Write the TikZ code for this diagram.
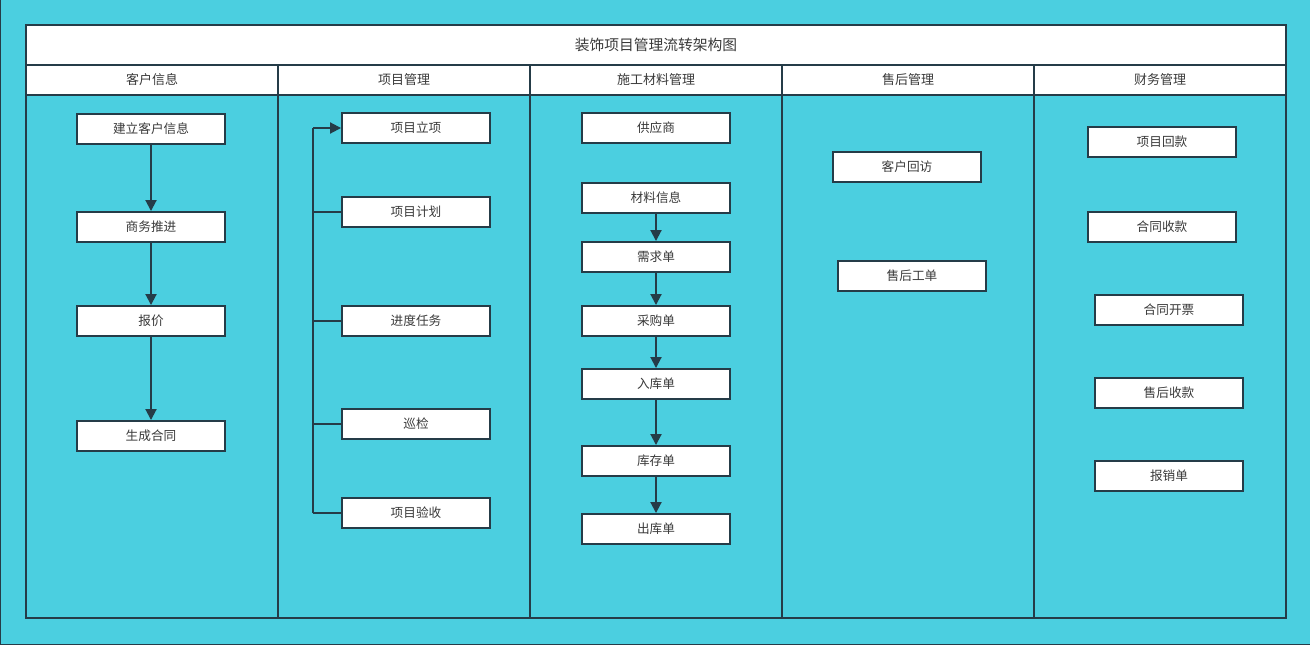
\documentclass[tikz,border=0pt]{standalone}
\usepackage{fontspec}
\setmainfont{Noto Sans CJK SC}
\usepackage{tikz}
\usetikzlibrary{arrows.meta, positioning, calc}
\definecolor{fcyan}{HTML}{4BCFE0}
\definecolor{fline}{HTML}{253C48}
\definecolor{ftext}{HTML}{3A3A3A}
\tikzset{
  card/.style={rectangle, draw=fline, line width=1.1pt, fill=white, text=ftext,
               minimum width=2.96cm, minimum height=0.6cm, inner sep=0pt,
               font=\fontsize{7.2}{9}\selectfont},
  head/.style={rectangle, draw=fline, line width=1.1pt, fill=white, text=ftext,
               minimum width=5.04cm, minimum height=0.6cm, inner sep=0pt,
               font=\fontsize{7.4}{9}\selectfont},
  lane/.style={draw=fline, line width=1.1pt, fill=fcyan},
  wire/.style={draw=fline, line width=1.1pt},
  flow/.style={-{Triangle[length=2.2mm, width=2.2mm]}, draw=fline, line width=1.1pt}
}
\begin{document}
\begin{tikzpicture}[x=0.02cm, y=-0.02cm]
  \useasboundingbox (0,0) rectangle (1310,645);
  \fill[fcyan] (0,0) rectangle (1310,645);
  \draw[fline, line width=0.8pt] (0.5,0) -- (0.5,644.5) -- (1310,644.5);

  % lanes and headers
  \node[head, minimum width=25.2cm, minimum height=0.8cm, font=\fontsize{8.4}{10}\selectfont]
    (title) at (656,45) {装饰项目管理流转架构图};
  \foreach \i/\t in {0/客户信息, 1/项目管理, 2/施工材料管理, 3/售后管理, 4/财务管理} {
    \draw[lane] ({26+252*\i},95) rectangle ({278+252*\i},618);
    \node[head] (h\i) at ({152+252*\i},80) {\t};
  }

  % customer lane
  \node[card] (c1) at (151,129) {建立客户信息};
  \node[card] (c2) at (151,227) {商务推进};
  \node[card] (c3) at (151,321) {报价};
  \node[card] (c4) at (151,436) {生成合同};
  \foreach \a/\b in {c1/c2, c2/c3, c3/c4}
    \draw[flow] (\a) -- (\b);

  % project lane
  \node[card] (p1) at (416,128) {项目立项};
  \node[card] (p2) at (416,212) {项目计划};
  \node[card] (p3) at (416,321) {进度任务};
  \node[card] (p4) at (416,424) {巡检};
  \node[card] (p5) at (416,513) {项目验收};
  \coordinate (bustop) at (313,128);
  \coordinate (busend) at (313,513);
  \draw[wire] (busend) -- (bustop);
  \draw[flow] (bustop) -- (p1);
  \foreach \n in {p2, p3, p4, p5}
    \draw[wire] (\n.west) -- (\n.west -| bustop);

  % material lane
  \node[card] (m0) at (656,128) {供应商};
  \node[card] (m1) at (656,198) {材料信息};
  \node[card] (m2) at (656,257) {需求单};
  \node[card] (m3) at (656,321) {采购单};
  \node[card] (m4) at (656,384) {入库单};
  \node[card] (m5) at (656,461) {库存单};
  \node[card] (m6) at (656,529) {出库单};
  \foreach \a/\b in {m1/m2, m2/m3, m3/m4, m4/m5, m5/m6}
    \draw[flow] (\a) -- (\b);

  % after-sales lane
  \node[card] (s1) at (907,167) {客户回访};
  \node[card] (s2) at (912,276) {售后工单};

  % finance lane
  \node[card] (f1) at (1162,142) {项目回款};
  \node[card] (f2) at (1162,227) {合同收款};
  \node[card] (f3) at (1169,310) {合同开票};
  \node[card] (f4) at (1169,393) {售后收款};
  \node[card] (f5) at (1169,476) {报销单};
\end{tikzpicture}
\end{document}
